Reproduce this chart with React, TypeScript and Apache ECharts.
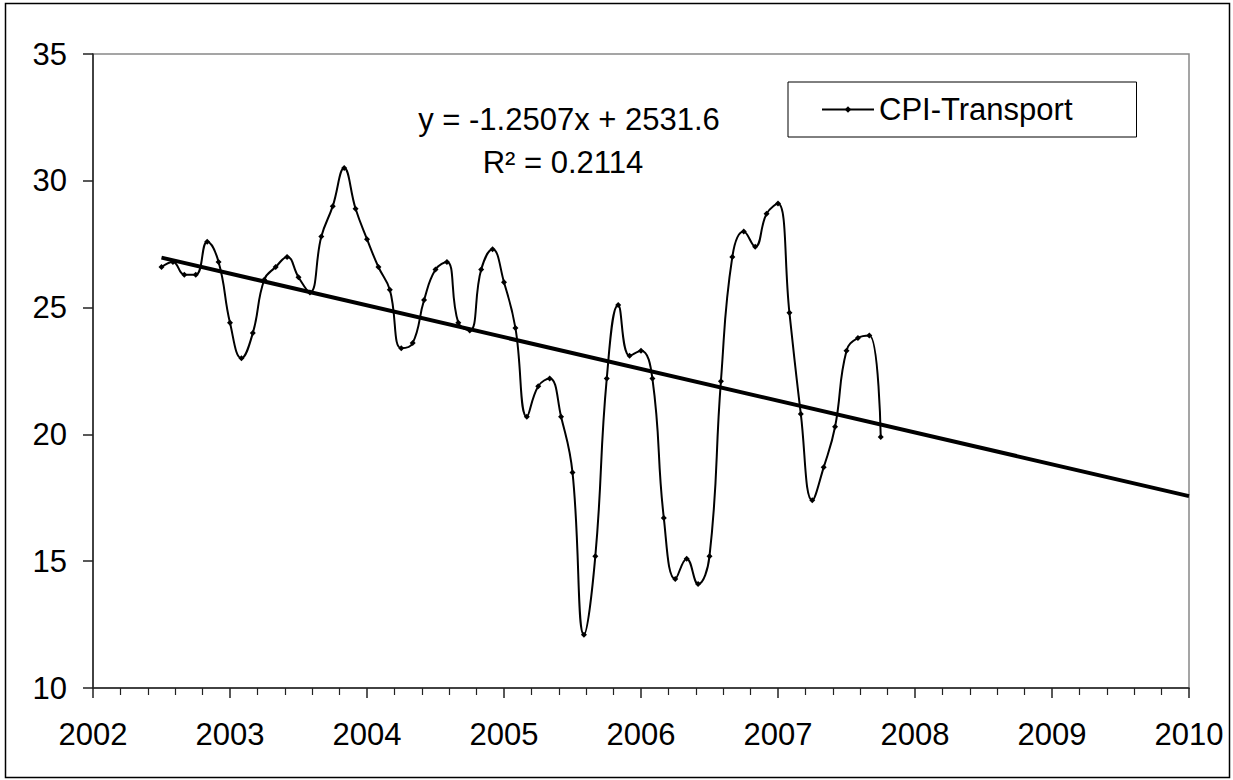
import React, { useEffect, useRef } from "react";
import * as echarts from "echarts";

// Monthly series, starting July 2002 (decimal year 2002.5)
const START_YEAR = 2002.5;
const MONTHS_PER_YEAR = 12;
const SERIES_NAME = "CPI-Transport";
const cpiTransport = [
  26.6, 26.8, 26.3, 26.3, 27.6, 26.8, 24.4, 23.0, 24.0, 26.1, 26.6, 27.0,
  26.2, 25.6, 27.8, 29.0, 30.5, 28.9, 27.7, 26.6, 25.7, 23.4, 23.6, 25.3,
  26.5, 26.8, 24.4, 24.1, 26.5, 27.3, 26.0, 24.2, 20.7, 21.9, 22.2, 20.7,
  18.5, 12.1, 15.2, 22.2, 25.1, 23.1, 23.3, 22.2, 16.7, 14.3, 15.1, 14.1,
  15.2, 22.1, 27.0, 28.0, 27.4, 28.7, 29.1, 24.8, 20.8, 17.4, 18.7, 20.3,
  23.3, 23.8, 23.9, 19.9,
];
const X_MIN = 2002;
const X_MAX = 2010;
const Y_MIN = 10;
const Y_MAX = 35;
const equationText = "y = -1.2507x + 2531.6";
const r2Text = "R² = 0.2114";

const FONT = "'Liberation Sans', Arial, Helvetica, sans-serif";

export default function App() {
  const ref = useRef<HTMLDivElement>(null);

  useEffect(() => {
    if (!ref.current) return;
    const chart = echarts.init(ref.current, undefined, { renderer: "svg" });

    const points = cpiTransport.map((v, i) => [START_YEAR + i / MONTHS_PER_YEAR, v]);
    // least-squares trend line, forecast forward to the axis max
    const n = points.length;
    const mx = points.reduce((s, p) => s + p[0], 0) / n;
    const my = points.reduce((s, p) => s + p[1], 0) / n;
    let sxy = 0, sxx = 0;
    points.forEach((p) => {
      sxy += (p[0] - mx) * (p[1] - my);
      sxx += (p[0] - mx) * (p[0] - mx);
    });
    const slope = sxy / sxx;
    const icpt = my - slope * mx;
    const x0 = points[0][0];
    const trend = [
      [x0, icpt + slope * x0],
      [X_MAX, icpt + slope * X_MAX],
    ];

    const axisLineStyle = { color: "#222", width: 1.5 };

    chart.setOption({
      animation: false,
      backgroundColor: "#fff",
      textStyle: { fontFamily: FONT },
      grid: {
        left: 93,
        top: 54,
        right: 44,
        bottom: 92,
        show: true,
        borderColor: "#888",
        borderWidth: 1.5,
        backgroundColor: "transparent",
      },
      legend: {
        data: [SERIES_NAME],
        left: 788,
        top: 82,
        orient: "horizontal",
        borderColor: "#000",
        borderWidth: 1,
        borderRadius: 0,
        padding: [12, 64, 12, 33],
        itemWidth: 52,
        itemHeight: 8,
        textStyle: { fontSize: 31, color: "#000", fontFamily: FONT },
        selectedMode: false,
      },
      xAxis: {
        type: "value",
        min: X_MIN,
        max: X_MAX,
        interval: 1,
        axisLine: { show: true, onZero: false, lineStyle: axisLineStyle },
        axisTick: { show: true, length: 10, inside: false, lineStyle: axisLineStyle },
        minorTick: { show: true, splitNumber: 5, length: 7, lineStyle: { color: "#222", width: 1.2 } },
        splitLine: { show: false },
        minorSplitLine: { show: false },
        axisLabel: {
          fontSize: 31,
          color: "#000",
          margin: 31,
          fontFamily: FONT,
          formatter: (v: number) => String(v),
        },
      },
      yAxis: {
        type: "value",
        min: Y_MIN,
        max: Y_MAX,
        interval: 5,
        axisLine: { show: true, onZero: false, lineStyle: axisLineStyle },
        axisTick: { show: true, length: 10, inside: false, lineStyle: axisLineStyle },
        splitLine: { show: false },
        axisLabel: {
          fontSize: 31,
          color: "#000",
          margin: 26,
          fontFamily: FONT,
          formatter: (v: number) => String(v),
        },
      },
      series: [
        {
          name: SERIES_NAME,
          type: "line",
          data: points,
          smooth: 0.45,
          symbol: "diamond",
          symbolSize: 6,
          showSymbol: true,
          lineStyle: { color: "#000", width: 2 },
          itemStyle: { color: "#000" },
          z: 3,
        },
        {
          name: "Linear trend",
          type: "line",
          data: trend,
          symbol: "none",
          lineStyle: { color: "#000", width: 4 },
          z: 2,
        },
      ],
      graphic: [
        {
          type: "rect",
          shape: { x: 5.5, y: 3.5, width: 1224, height: 774 },
          style: { fill: "none", stroke: "#000", lineWidth: 1.5 },
          silent: true,
        },
        {
          type: "text",
          x: 569,
          y: 119,
          style: {
            text: equationText,
            fontSize: 31,
            fontFamily: FONT,
            fill: "#000",
            align: "center",
            verticalAlign: "middle",
          },
        },
        {
          type: "text",
          x: 563,
          y: 162,
          style: {
            text: r2Text,
            fontSize: 31,
            fontFamily: FONT,
            fill: "#000",
            align: "center",
            verticalAlign: "middle",
          },
        },
      ],
    });

    return () => chart.dispose();
  }, []);

  return (
    <div
      ref={ref}
      style={{ position: "absolute", left: 0, top: 0, width: 1233, height: 780 }}
    />
  );
}
